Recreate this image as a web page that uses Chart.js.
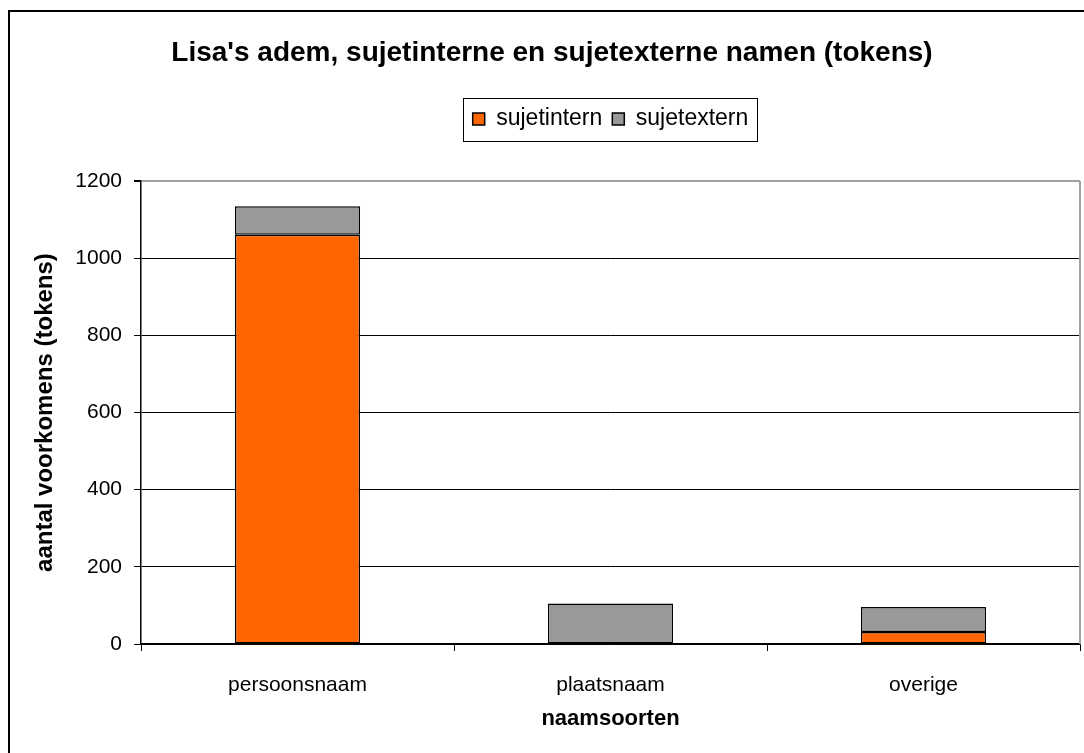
<!DOCTYPE html>
<html>
<head>
<meta charset="utf-8">
<script src="https://cdn.jsdelivr.net/npm/chart.js@4.4.1/dist/chart.umd.min.js"></script>
<style>
  html, body { margin: 0; padding: 0; background: #fff; }
  #wrap { width: 1084px; height: 753px; }
</style>
</head>
<body>
<div id="wrap"><canvas id="c" width="1084" height="753"></canvas></div>
<script>
const categories = ['persoonsnaam', 'plaatsnaam', 'overige'];
const sujetintern = [1061, 0, 31];
const sujetextern = [74, 105, 65];
const yMin = 0, yMax = 1200, yStep = 200;

const FONT = "'Liberation Sans', Arial, sans-serif";

const framePlugin = {
  id: 'frame',
  beforeDraw(chart) {
    const ctx = chart.ctx;
    ctx.save();
    ctx.fillStyle = '#ffffff';
    ctx.fillRect(0, 0, chart.width, chart.height);
    ctx.strokeStyle = '#000000';
    ctx.lineWidth = 2;
    ctx.strokeRect(9, 11, 1300, 1300);
    ctx.restore();
  },
  afterDraw(chart) {
    const ctx = chart.ctx;
    const a = chart.chartArea;
    ctx.save();
    ctx.strokeStyle = '#a0a0a0';
    ctx.lineWidth = 2;
    ctx.beginPath();
    ctx.moveTo(a.right, a.top);
    ctx.lineTo(a.right, a.bottom);
    ctx.stroke();
    const lg = chart.legend;
    if (lg && lg.legendHitBoxes && lg.legendHitBoxes.length) {
      const hb = lg.legendHitBoxes;
      const l = hb[0].left - 10;
      const r = hb[hb.length - 1].left + hb[hb.length - 1].width + 8;
      ctx.strokeStyle = '#000000';
      ctx.lineWidth = 1;
      ctx.strokeRect(Math.round(l) + 0.5, Math.round(lg.top) + 0.5, Math.round(r - l), Math.round(lg.bottom - lg.top));
    }
    ctx.restore();
  }
};

new Chart(document.getElementById('c'), {
  type: 'bar',
  data: {
    labels: categories,
    datasets: [
      { label: 'sujetintern', data: sujetintern, backgroundColor: '#FF6600', borderColor: '#000000', borderWidth: 1.5, borderSkipped: false },
      { label: 'sujetextern', data: sujetextern, backgroundColor: '#999999', borderColor: '#000000', borderWidth: 1.5, borderSkipped: false }
    ]
  },
  options: {
    responsive: false,
    devicePixelRatio: 1,
    animation: false,
    categoryPercentage: 1.0,
    barPercentage: 0.4,
    layout: { padding: { left: 24, right: 4, top: 0, bottom: 0 } },
    plugins: {
      title: {
        display: true,
        text: "Lisa's adem, sujetinterne en sujetexterne namen (tokens)",
        color: '#000',
        font: { family: FONT, size: 28, weight: 'bold' },
        padding: { top: 36, bottom: 28 }
      },
      legend: {
        display: true,
        position: 'top',
        fullSize: false,
        labels: {
          color: '#000',
          font: { family: FONT, size: 23 },
          boxWidth: 12,
          boxHeight: 12,
          padding: 10
        }
      },
      subtitle: {
        display: true,
        text: ' ',
        weight: 500,
        fullSize: false,
        font: { family: FONT, size: 10 },
        padding: { top: 0, bottom: 28.5 }
      },
      tooltip: { enabled: false }
    },
    scales: {
      x: {
        stacked: true,
        offset: true,
        grid: { drawOnChartArea: false, drawTicks: true, tickLength: 7, color: '#000', tickColor: '#000' },
        border: { display: true, color: '#000', width: 1.5 },
        ticks: { color: '#000', font: { family: FONT, size: 21 }, padding: 22 },
        title: { display: true, text: 'naamsoorten', color: '#000', font: { family: FONT, size: 22, weight: 'bold' }, padding: { top: 0, bottom: 21 } },
        afterFit(s) { s.height = 109; }
      },
      y: {
        stacked: true,
        min: yMin,
        max: yMax,
        ticks: { stepSize: yStep, color: '#000', font: { family: FONT, size: 21 }, padding: 12, callback: (v) => String(v) },
        grid: {
          tickLength: 7,
          tickColor: '#000',
          color: (c) => (c.tick && c.tick.value === yMax) ? '#a0a0a0' : '#000',
          lineWidth: (c) => (c.tick && c.tick.value === yMax) ? 2 : 1
        },
        border: { display: true, color: '#000', width: 1.5 },
        title: { display: true, text: 'aantal voorkomens (tokens)', color: '#000', font: { family: FONT, size: 24, weight: 'bold' }, padding: { top: 7, bottom: 0 } },
        afterFit(s) { s.width = 117; }
      }
    }
  },
  plugins: [framePlugin]
});
</script>
</body>
</html>
